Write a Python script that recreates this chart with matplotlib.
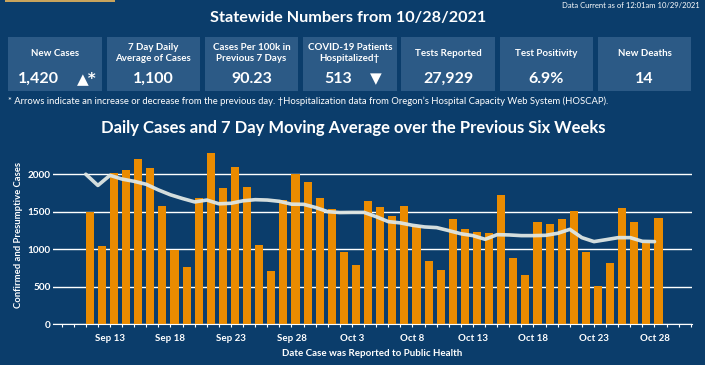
import matplotlib.pyplot as plt
import matplotlib.dates as mdates
from matplotlib.patches import Rectangle
import pandas as pd

# daily cases, Sep 11 .. Oct 28 2021
dates = pd.date_range('2021-09-11', '2021-10-28', freq='D')
cases = [1500, 1040, 2020, 2050, 2200, 2085, 1580, 990, 760, 1680,
         2280, 1820, 2100, 1835, 1050, 705, 1650, 2005, 1895, 1685,
         1535, 965, 790, 1640, 1560, 1440, 1575, 1310, 840, 720,
         1400, 1270, 1230, 1215, 1725, 880, 655, 1360, 1335, 1400,
         1510, 960, 510, 815, 1550, 1360, 1080, 1420]
avg7 = [2000, 1850, 1985, 1935, 1905, 1865, 1790, 1725, 1675, 1630,
        1655, 1605, 1612, 1645, 1660, 1655, 1638, 1600, 1598, 1555,
        1500, 1488, 1490, 1490, 1433, 1367, 1350, 1318, 1296, 1287,
        1247, 1205, 1180, 1131, 1193, 1189, 1180, 1180, 1184, 1211,
        1264, 1153, 1100, 1126, 1153, 1153, 1104, 1100]

kpi_titles = ['New Cases', '7 Day Daily\nAverage of Cases', 'Cases Per 100k in\nPrevious 7 Days',
              'COVID-19 Patients\nHospitalized\u2020', 'Tests Reported', 'Test Positivity', 'New Deaths']
kpi_values = ['1,420', '1,100', '90.23', '513', '27,929', '6.9%', '14']

BG = '#0b3d6b'
BOX = '#2c5a86'
ORANGE = '#ea8b00'
W, H = 705, 365

plt.rcParams['font.family'] = ['Lato', 'DejaVu Sans']
plt.rcParams['font.weight'] = 'bold'

fig = plt.figure(figsize=(W / 100, H / 100), dpi=100, facecolor=BG)


def px(x, y):
    return x / W, 1 - y / H


def ftext(x, y, s, size, weight='bold', ha='center', va='center', **kw):
    fig.text(*px(x, y), s, fontsize=size, fontweight=weight, ha=ha, va=va,
             color='white', **kw)


# small tab at the top left
fig.patches.append(Rectangle(px(5, 1.5), 110 / W, 1.5 / H, transform=fig.transFigure,
                             facecolor='#c9a45c', edgecolor='none'))

ftext(700, 6, 'Data Current as of 12:01am 10/29/2021', 5.5, weight='normal', ha='right')
ftext(348, 18, 'Statewide Numbers from 10/28/2021', 11.7)

# KPI tiles
for i, (t, v) in enumerate(zip(kpi_titles, kpi_values)):
    x0 = 8.3 + i * 98.25
    fig.patches.append(Rectangle(px(x0, 91), 93.5 / W, 54 / H, transform=fig.transFigure,
                                 facecolor=BOX, edgecolor='none'))
    cx = x0 + 46.75
    ftext(cx, 53, t, 7, linespacing=1.25)
    if i == 0:
        ftext(38, 79, v, 11.5)
        ftext(87, 79, '\u25b2*', 11, family=['DejaVu Sans'])
    elif i == 3:
        ftext(338, 79, v, 11.5)
        ftext(376, 79, '\u25bc', 11, family=['DejaVu Sans'])
    else:
        ftext(cx, 79, v, 11.5)

ftext(8, 101, '* Arrows indicate an increase or decrease from the previous day. '
      '\u2020Hospitalization data from Oregon\u2019s Hospital Capacity Web System (HOSCAP).',
      6.8, weight='normal', ha='left')

ftext(353, 128, 'Daily Cases and 7 Day Moving Average over the Previous Six Weeks', 12)

# chart
ax = fig.add_axes([53 / W, (H - 324) / H, (692 - 53) / W, (324 - 145) / H])
ax.set_facecolor(BG)
ax.bar(dates, cases, width=0.67, align='edge', color=ORANGE, zorder=2)
ax.plot(dates, avg7, color='#dfe7e4', lw=2.6, alpha=0.95, zorder=3,
        solid_joinstyle='round', solid_capstyle='round')

ax.set_ylim(0, 2390)
ax.set_yticks([0, 500, 1000, 1500, 2000])
ax.grid(axis='y', color='white', lw=1, zorder=1)
ax.set_xlim(dates[2] - pd.Timedelta(days=4.71), dates[2] + pd.Timedelta(days=48.1))
ax.xaxis.set_major_locator(mdates.DayLocator(bymonthday=[3, 8, 13, 18, 23, 28]))
ax.xaxis.set_major_formatter(mdates.DateFormatter('%b %-d'))
ax.xaxis.set_minor_locator(mdates.DayLocator())

for s in ['top', 'right', 'left']:
    ax.spines[s].set_visible(False)
ax.spines['bottom'].set_color('white')
ax.spines['bottom'].set_linewidth(0.8)
ax.tick_params(axis='x', which='both', colors='white', length=2.5, width=0.8,
               labelsize=7, pad=5)
ax.tick_params(axis='y', length=0, colors='white', labelsize=7.2, pad=1.5)

ax.set_ylabel('Confirmed and Presumptive Cases', color='white', fontsize=6.8,
              fontweight='bold', labelpad=3)
ax.set_xlabel('Date Case was Reported to Public Health', color='white', fontsize=7,
              fontweight='bold', labelpad=4)

fig.savefig('out.png', dpi=100, facecolor=BG)
